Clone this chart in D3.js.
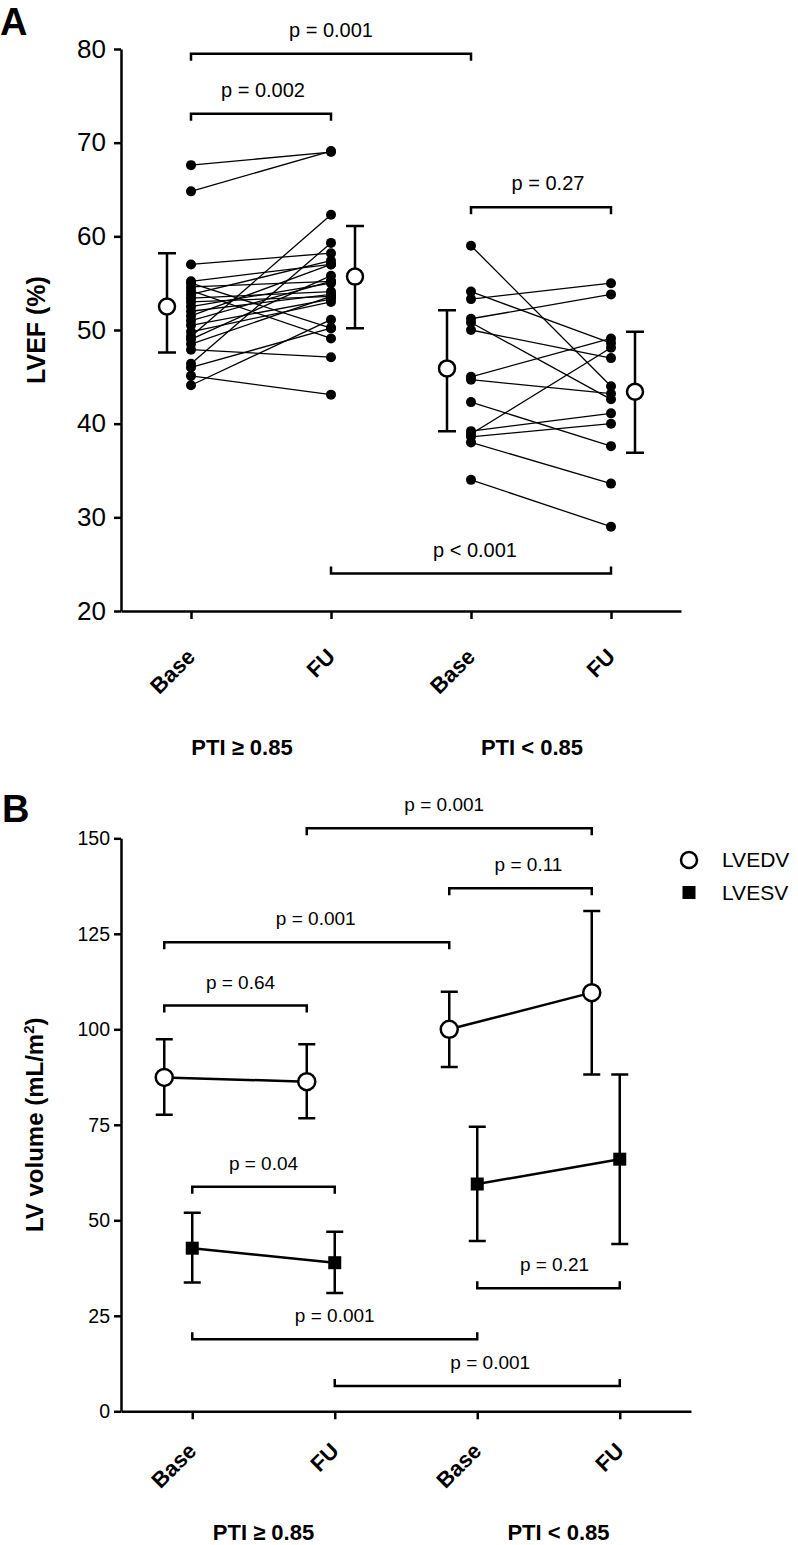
<!DOCTYPE html>
<html><head><meta charset="utf-8">
<script src="https://cdn.jsdelivr.net/npm/d3@7"></script>
<style>
body{margin:0;background:#fff;}
svg{display:block;font-family:"Liberation Sans",Arial,Helvetica,sans-serif;}
</style></head><body>
<svg id="chart" width="798" height="1545"></svg>
<script>
// ================= DATA =================
const timepoints = ["Base", "FU", "Base", "FU"];
const groupLabels = ["PTI \u2265 0.85", "PTI < 0.85"];

// Panel A: individual LVEF (%) pairs
const lvefHighBase = [67.6, 64.8, 57.0, 55.2, 55.0, 54.6, 54.2, 53.8, 53.4, 53.0, 52.5, 52.0, 51.5, 51.0, 50.5, 49.3, 49.8, 49.0, 48.5, 47.9, 46.4, 46.0, 45.1, 44.1];
const lvefHighFU   = [69.0, 69.1, 58.2, 57.0, 50.2, 55.2, 49.1, 57.4, 54.1, 53.6, 55.0, 53.8, 57.0, 55.2, 53.3, 62.3, 53.0, 55.8, 53.6, 47.1, 59.3, 50.2, 43.1, 51.1];
const lvefLowBase  = [59.0, 54.1, 53.3, 51.2, 50.8, 50.0, 45.0, 44.7, 42.3, 39.2, 38.9, 38.6, 38.0, 34.0];
const lvefLowFU    = [44.0, 48.6, 55.0, 53.8, 42.6, 47.0, 49.1, 43.2, 37.6, 41.1, 48.1, 40.0, 33.6, 29.0];

// Panel A: summary (Base, FU, Base, FU)
const lvefMean = [52.5, 55.7, 45.9, 43.4];
const lvefLo   = [47.6, 50.2, 39.2, 36.9];
const lvefHi   = [58.2, 61.1, 52.1, 49.8];
const lvefTicks = [20, 30, 40, 50, 60, 70, 80];

// Panel A comparisons
const compAFrom  = [0, 0, 2, 1];
const compATo    = [2, 1, 3, 3];
const compAY     = [79.5, 73.1, 63.1, 24.0];
const compALabel = ["p = 0.001", "p = 0.002", "p = 0.27", "p < 0.001"];
const compADir   = ["down", "down", "down", "up"];

// Panel B: LV volumes (mL/m2)
const lvedvMean = [87.4, 86.3, 100.0, 109.6];
const lvedvLo   = [77.6, 76.7, 90.1, 88.2];
const lvedvHi   = [97.4, 96.1, 109.8, 131.0];
const lvesvMean = [42.7, 38.9, 59.5, 66.0];
const lvesvLo   = [33.7, 31.0, 44.6, 43.8];
const lvesvHi   = [52.0, 47.0, 74.5, 88.2];
const volTicks  = [0, 25, 50, 75, 100, 125, 150];
const seriesNames = ["LVEDV", "LVESV"];

// Panel B comparisons (series: 0 = LVEDV, 1 = LVESV)
const compBFrom   = [1, 2, 0, 0, 0, 2, 0, 1];
const compBTo     = [3, 3, 2, 1, 1, 3, 2, 3];
const compBSeries = [0, 0, 0, 0, 1, 1, 1, 1];
const compBY      = [152.6, 136.9, 122.8, 106.2, 58.8, 32.2, 18.85, 6.6];
const compBLabel  = ["p = 0.001", "p = 0.11", "p = 0.001", "p = 0.64", "p = 0.04", "p = 0.21", "p = 0.001", "p = 0.001"];
const compBDir    = ["down", "down", "down", "down", "down", "up", "up", "up"];

// ================= LAYOUT / STYLE =================
const svg = d3.select("#chart");
const AX = 2.5;
const nudgeA = [0, 2, 7, 4];
const nudgeB = [-5, 8, 9, 5, 0, 6, 0, 13];

function styleAxis(g) {
  g.select(".domain").attr("stroke", "#000").attr("stroke-width", AX);
  g.selectAll(".tick line").attr("stroke", "#000").attr("stroke-width", AX);
  g.selectAll("text").attr("fill", "#000").style("font-family", '"Liberation Sans",Arial,sans-serif');
}

function bracket(g, x1, x2, y, dir, tick) {
  const t = dir === "down" ? tick : -tick;
  g.append("path")
    .attr("d", `M${x1},${y + t}V${y}H${x2}V${y + t}`)
    .attr("fill", "none").attr("stroke", "#000").attr("stroke-width", 2.5);
}

function errorBar(g, x, yLo, yHi, cap) {
  g.append("path")
    .attr("d", `M${x},${yLo}V${yHi}M${x - cap},${yHi}H${x + cap}M${x - cap},${yLo}H${x + cap}`)
    .attr("fill", "none").attr("stroke", "#000").attr("stroke-width", 2.5);
}

// ================= PANEL A =================
const yA = d3.scaleLinear().domain([20, 80]).range([611, 49]);
const xA = d3.scaleLinear().domain([-0.5, 3.5]).range([121, 681]);
const gA = svg.append("g");

gA.append("text").attr("x", 0).attr("y", 35).text("A")
  .style("font-size", "38px").style("font-weight", "bold");

gA.append("g").attr("transform", `translate(${xA(-0.5)},0)`)
  .call(d3.axisLeft(yA).tickValues(lvefTicks).tickSize(7).tickPadding(8).tickSizeOuter(0))
  .call(styleAxis)
  .selectAll("text").style("font-size", "26px");

gA.append("g").attr("transform", `translate(0,${yA(20)})`)
  .call(d3.axisBottom(xA).tickValues([0, 1, 2, 3]).tickFormat(i => timepoints[i]).tickSize(8).tickSizeOuter(0))
  .call(styleAxis)
  .selectAll("text")
  .attr("x", 0).attr("y", 0).attr("dy", 0)
  .attr("text-anchor", "end")
  .attr("transform", "translate(5,47) rotate(-45)")
  .style("font-size", "22px").style("font-weight", "bold");

gA.append("text")
  .attr("transform", `translate(45,${(yA(20) + yA(80)) / 2}) rotate(-90)`)
  .attr("text-anchor", "middle")
  .style("font-size", "25px").style("font-weight", "bold")
  .text("LVEF (%)");

// paired lines and dots
const pairsA = [
  { base: lvefHighBase, fu: lvefHighFU, i0: 0, i1: 1 },
  { base: lvefLowBase, fu: lvefLowFU, i0: 2, i1: 3 }
];
pairsA.forEach(p => {
  p.base.forEach((b, k) => {
    gA.append("line")
      .attr("x1", xA(p.i0)).attr("y1", yA(b))
      .attr("x2", xA(p.i1)).attr("y2", yA(p.fu[k]))
      .attr("stroke", "#000").attr("stroke-width", 1.3);
  });
  p.base.forEach(b => gA.append("circle").attr("cx", xA(p.i0)).attr("cy", yA(b)).attr("r", 5).attr("fill", "#000"));
  p.fu.forEach(f => gA.append("circle").attr("cx", xA(p.i1)).attr("cy", yA(f)).attr("r", 5).attr("fill", "#000"));
});

// means with error bars
lvefMean.forEach((m, i) => {
  const x = xA(i) + (i % 2 === 0 ? -24 : 24);
  errorBar(gA, x, yA(lvefLo[i]), yA(lvefHi[i]), 9);
  gA.append("circle").attr("cx", x).attr("cy", yA(m)).attr("r", 8)
    .attr("fill", "#fff").attr("stroke", "#000").attr("stroke-width", 2.5);
});

// comparisons
compALabel.forEach((lab, k) => {
  const x1 = xA(compAFrom[k]), x2 = xA(compATo[k]), y = yA(compAY[k]);
  bracket(gA, x1, x2, y, compADir[k], 7);
  gA.append("text").attr("x", (x1 + x2) / 2 + nudgeA[k]).attr("y", y - 17)
    .attr("text-anchor", "middle").style("font-size", "20px").text(lab);
});

// group labels
const grpNudgeA = [-19, -9];
groupLabels.forEach((lab, g) => {
  gA.append("text").attr("x", (xA(2 * g) + xA(2 * g + 1)) / 2 + grpNudgeA[g]).attr("y", 755)
    .attr("text-anchor", "middle").style("font-size", "22px").style("font-weight", "bold").text(lab);
});

// ================= PANEL B =================
const yB = d3.scaleLinear().domain([0, 150]).range([1411.3, 838.3]);
const xB = d3.scaleLinear().domain([-0.5, 3.5]).range([121, 691]);
const gB = svg.append("g");
const seriesOffset = [-28, 0];

gB.append("text").attr("x", 2).attr("y", 822).text("B")
  .style("font-size", "38px").style("font-weight", "bold");

gB.append("g").attr("transform", `translate(${xB(-0.5)},0)`)
  .call(d3.axisLeft(yB).tickValues(volTicks).tickSize(7).tickPadding(4).tickSizeOuter(0))
  .call(styleAxis)
  .selectAll("text").style("font-size", "19.5px");

gB.append("g").attr("transform", `translate(0,${yB(0)})`)
  .call(d3.axisBottom(xB).tickValues([0, 1, 2, 3]).tickFormat(i => timepoints[i]).tickSize(8).tickSizeOuter(0))
  .call(styleAxis)
  .selectAll("text")
  .attr("x", 0).attr("y", 0).attr("dy", 0)
  .attr("text-anchor", "end")
  .attr("transform", "translate(5,41) rotate(-45)")
  .style("font-size", "22px").style("font-weight", "bold");

const yTitleB = gB.append("text")
  .attr("transform", `translate(43,${(yB(0) + yB(150)) / 2}) rotate(-90)`)
  .attr("text-anchor", "middle")
  .style("font-size", "24px").style("font-weight", "bold");
yTitleB.append("tspan").text("LV volume (mL/m");
yTitleB.append("tspan").attr("dy", -9).style("font-size", "15px").text("2");
yTitleB.append("tspan").attr("dy", 9).text(")");

const seriesB = [
  { mean: lvedvMean, lo: lvedvLo, hi: lvedvHi, s: 0 },
  { mean: lvesvMean, lo: lvesvLo, hi: lvesvHi, s: 1 }
];
seriesB.forEach(ser => {
  const xs = i => xB(i) + seriesOffset[ser.s];
  ser.mean.forEach((m, i) => errorBar(gB, xs(i), yB(ser.lo[i]), yB(ser.hi[i]), 8.5));
  [[0, 1], [2, 3]].forEach(([a, b]) => {
    gB.append("line").attr("x1", xs(a)).attr("y1", yB(ser.mean[a]))
      .attr("x2", xs(b)).attr("y2", yB(ser.mean[b]))
      .attr("stroke", "#000").attr("stroke-width", 2.5);
  });
  ser.mean.forEach((m, i) => {
    if (ser.s === 0) {
      gB.append("circle").attr("cx", xs(i)).attr("cy", yB(m)).attr("r", 8.5)
        .attr("fill", "#fff").attr("stroke", "#000").attr("stroke-width", 2.5);
    } else {
      gB.append("rect").attr("x", xs(i) - 6.5).attr("y", yB(m) - 6.5)
        .attr("width", 13).attr("height", 13).attr("fill", "#000");
    }
  });
});

compBLabel.forEach((lab, k) => {
  const off = seriesOffset[compBSeries[k]];
  const x1 = xB(compBFrom[k]) + off, x2 = xB(compBTo[k]) + off, y = yB(compBY[k]);
  bracket(gB, x1, x2, y, compBDir[k], 7);
  gB.append("text").attr("x", (x1 + x2) / 2 + nudgeB[k]).attr("y", y - 17)
    .attr("text-anchor", "middle").style("font-size", "19px").text(lab);
});

const grpNudgeB = [0, 10];
groupLabels.forEach((lab, g) => {
  gB.append("text").attr("x", (xB(2 * g) + xB(2 * g + 1)) / 2 + grpNudgeB[g]).attr("y", 1540)
    .attr("text-anchor", "middle").style("font-size", "22px").style("font-weight", "bold").text(lab);
});

// legend
const leg = gB.append("g").attr("transform", "translate(689,860)");
leg.append("circle").attr("cx", 0).attr("cy", 0).attr("r", 8)
  .attr("fill", "#fff").attr("stroke", "#000").attr("stroke-width", 2.5);
leg.append("rect").attr("x", -6.5).attr("y", 26).attr("width", 13).attr("height", 13).attr("fill", "#000");
seriesNames.forEach((n, i) => {
  leg.append("text").attr("x", 33).attr("y", 7 + i * 33).style("font-size", "21px").text(n);
});
</script>
</body></html>
